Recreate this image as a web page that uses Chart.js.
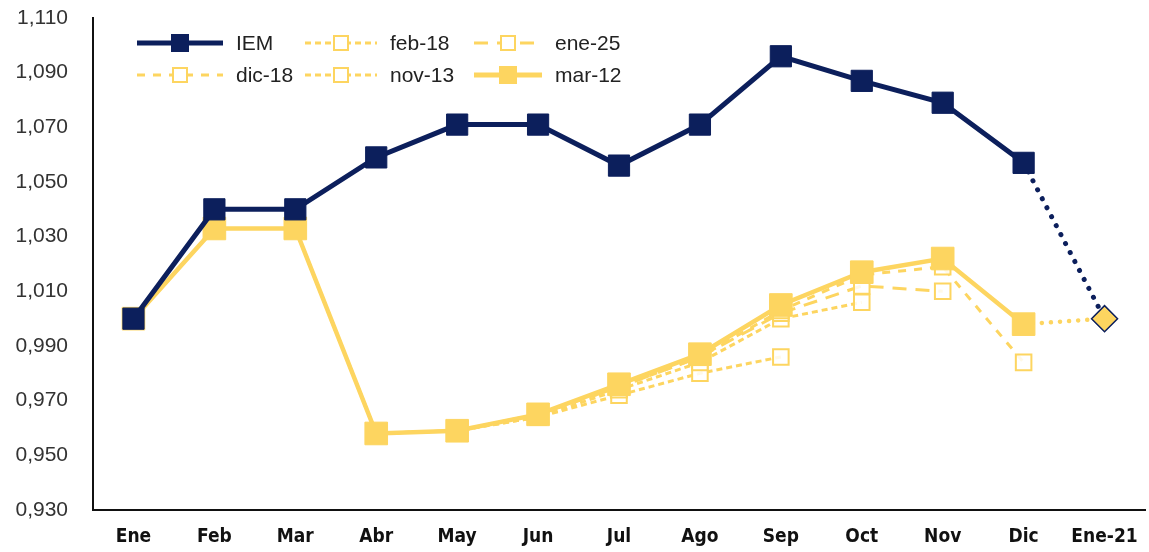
<!DOCTYPE html>
<html>
<head>
<meta charset="utf-8">
<script src="https://cdn.jsdelivr.net/npm/chart.js@4.4.1/dist/chart.umd.min.js"></script>
<style>
  html, body { margin: 0; padding: 0; background: #fff; overflow: hidden; }
  #wrap { position: relative; width: 1149px; height: 552px; overflow: hidden; }
  #legend { position: absolute; left: 0; top: 0; font-family: 'Liberation Sans', Arial, sans-serif; font-size: 21px; color: #222; }
  .item { position: absolute; display: flex; align-items: center; height: 24px; white-space: nowrap; }
  .item span { margin-left: 13px; }
</style>
</head>
<body>
<div id="wrap">
  <!-- canvas a little wider than the window so the plot runs to the right edge -->
  <canvas id="chart" width="1162" height="552"></canvas>
  <div id="legend"></div>
</div>
<script>
// categories and series
const months = ['Ene', 'Feb', 'Mar', 'Abr', 'May', 'Jun', 'Jul', 'Ago', 'Sep', 'Oct', 'Nov', 'Dic', 'Ene-21'];
const iem   = [1.000, 1.040, 1.040, 1.059, 1.071, 1.071, 1.056, 1.071, 1.096, 1.087, 1.079, 1.057, 1.000];
const mar12 = [1.000, 1.033, 1.033, 0.958, 0.959, 0.965, 0.976, 0.987, 1.005, 1.017, 1.022, 0.998, 1.000];
const dic18 = [1.000, 1.033, 1.033, 0.958, 0.959, 0.965, 0.975, 0.986, 1.003, 1.016, 1.019, 0.984, null];
const ene25 = [1.000, 1.033, 1.033, 0.958, 0.959, 0.965, 0.975, 0.986, 1.002, 1.012, 1.010, null, null];
const nov13 = [1.000, 1.033, 1.033, 0.958, 0.959, 0.964, 0.974, 0.984, 1.000, 1.006, null, null, null];
const feb18 = [1.000, 1.033, 1.033, 0.958, 0.959, 0.964, 0.972, 0.980, 0.986, null, null, null, null];
const estimate = [null, null, null, null, null, null, null, null, null, null, null, null, 1.000];
const yTicks = { min: 0.93, max: 1.11, step: 0.02 };

const NAVY = '#0c1f5c';
const GOLD = '#fdd560';
const LAST = months.length - 1;

// dotted last segment (Dic -> Ene-21)
const dotted = (gap) => ({
  borderDash: ctx => ctx.p1DataIndex === LAST ? [0.1, gap] : undefined,
  borderCapStyle: ctx => ctx.p1DataIndex === LAST ? 'round' : 'butt'
});

function hollow(label, data, dash, order) {
  return {
    label, data, order,
    borderColor: GOLD, borderWidth: 3, borderDash: dash,
    pointStyle: 'rect', pointRadius: 11, pointBorderWidth: 2,
    pointBackgroundColor: 'rgba(255,255,255,0.85)', pointBorderColor: GOLD
  };
}

new Chart(document.getElementById('chart').getContext('2d'), {
  type: 'line',
  data: {
    labels: months,
    datasets: [
      {
        label: 'estimate', data: estimate, order: -1, showLine: false,
        pointStyle: 'rectRot', pointRadius: 13, pointBorderWidth: 1.5,
        pointBackgroundColor: GOLD, pointBorderColor: NAVY
      },
      {
        label: 'IEM', data: iem, order: 0,
        borderColor: NAVY, borderWidth: 5, segment: dotted(10),
        pointStyle: 'rect', pointRadius: ctx => ctx.dataIndex === LAST ? 0 : 15,
        pointBackgroundColor: NAVY, pointBorderColor: NAVY, pointBorderWidth: 1
      },
      {
        label: 'mar-12', data: mar12, order: 1,
        borderColor: GOLD, borderWidth: 4.5, segment: dotted(9),
        pointStyle: 'rect', pointRadius: ctx => ctx.dataIndex === LAST ? 0 : 16,
        pointBackgroundColor: GOLD, pointBorderColor: GOLD, pointBorderWidth: 1
      },
      hollow('dic-18', dic18, [8, 8], 2),
      hollow('ene-25', ene25, [14, 9], 3),
      hollow('nov-13', nov13, [6, 4], 4),
      hollow('feb-18', feb18, [6, 4], 5)
    ]
  },
  options: {
    responsive: false,
    animation: false,
    layout: { padding: { top: 18, right: 0, left: 0, bottom: 0 } },
    plugins: { legend: { display: false }, tooltip: { enabled: false } },
    scales: {
      x: {
        offset: true,
        grid: { display: false, drawTicks: false },
        border: { display: true, color: '#111', width: 2 },
        afterFit: s => { s.height = 42; s.paddingLeft = 0; s.paddingRight = 0; },
        ticks: {
          padding: 16, color: '#111', maxRotation: 0, autoSkip: false,
          font: { family: "'Liberation Sans Narrow', 'DejaVu Sans Condensed', Arial", size: 19, weight: 'bold' }
        }
      },
      y: {
        min: yTicks.min, max: yTicks.max,
        grid: { display: false, drawTicks: false },
        border: { display: true, color: '#111', width: 2 },
        afterFit: s => { s.width = 93; s.paddingTop = 0; s.paddingBottom = 0; },
        ticks: {
          stepSize: yTicks.step, padding: 25, color: '#333',
          font: { family: "'Liberation Sans', Arial", size: 21 },
          callback: v => (Math.round(v * 1000) / 1000).toFixed(3).replace('.', ',')
        }
      }
    }
  }
});

// legend laid over the plot, 3 columns x 2 rows as in the reference
const legendItems = [
  { label: 'IEM',    x: 137, y: 31, w: 86, color: NAVY, width: 5, dash: '',     marker: 'fill', size: 18 },
  { label: 'feb-18', x: 305, y: 31, w: 72, color: GOLD, width: 3, dash: '6 4',  marker: 'open', size: 14 },
  { label: 'ene-25', x: 474, y: 31, w: 68, color: GOLD, width: 3, dash: '14 9', marker: 'open', size: 14 },
  { label: 'dic-18', x: 137, y: 63, w: 86, color: GOLD, width: 3, dash: '8 8',  marker: 'open', size: 14 },
  { label: 'nov-13', x: 305, y: 63, w: 72, color: GOLD, width: 3, dash: '6 4',  marker: 'open', size: 14 },
  { label: 'mar-12', x: 474, y: 63, w: 68, color: GOLD, width: 5, dash: '',     marker: 'fill', size: 18 }
];
const legend = document.getElementById('legend');
legendItems.forEach(it => {
  const div = document.createElement('div');
  div.className = 'item';
  div.style.left = it.x + 'px';
  div.style.top = it.y + 'px';
  const h = 24, c = it.w / 2, s = it.size;
  const sq = it.marker === 'fill'
    ? `<rect x="${c - s / 2}" y="${h / 2 - s / 2}" width="${s}" height="${s}" fill="${it.color}"/>`
    : `<rect x="${c - s / 2}" y="${h / 2 - s / 2}" width="${s}" height="${s}" fill="#fff" stroke="${it.color}" stroke-width="2"/>`;
  div.innerHTML = `<svg width="${it.w}" height="${h}"><line x1="0" y1="${h / 2}" x2="${it.w}" y2="${h / 2}" stroke="${it.color}" stroke-width="${it.width}" stroke-dasharray="${it.dash}"/>${sq}</svg><span>${it.label}</span>`;
  legend.appendChild(div);
});
</script>
</body>
</html>
